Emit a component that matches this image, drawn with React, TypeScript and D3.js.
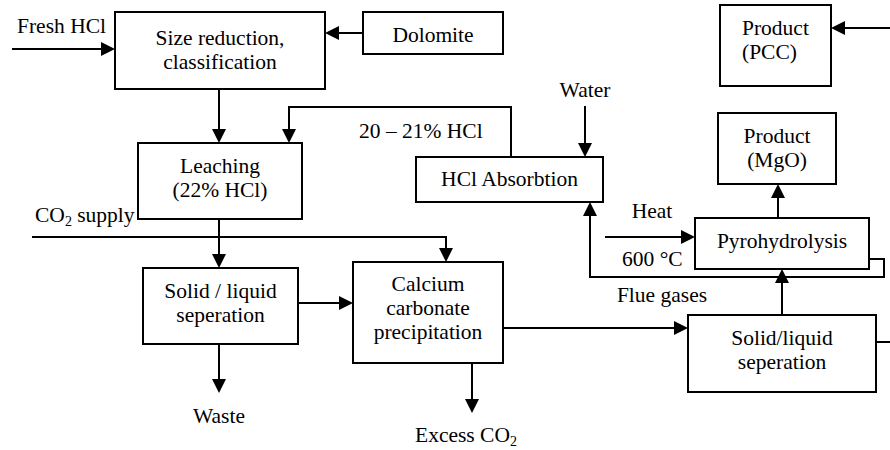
import * as d3 from "d3";

// process steps (box texts)
const boxLabels: string[][] = [
  ["Size reduction,", "classification"],
  ["Dolomite"],
  ["Leaching", "(22% HCl)"],
  ["HCl Absorbtion"],
  ["Product", "(PCC)"],
  ["Product", "(MgO)"],
  ["Pyrohydrolysis"],
  ["Solid / liquid", "seperation"],
  ["Calcium", "carbonate", "precipitation"],
  ["Solid/liquid", "seperation"],
];

// stream labels
const streamLabels = ["Fresh HCl", "20 – 21% HCl", "Water", "Heat", "600 °C", "Flue gases", "Waste"];
const subLabels = [
  ["CO", "2", " supply"],
  ["Excess CO", "2", ""],
];

// layout: box geometry + first text baseline
const boxLayout = [
  { x: 115, y: 12, w: 210, h: 77, ty: 45, anchor: "middle" },
  { x: 363, y: 12, w: 140, h: 42, ty: 42, anchor: "middle" },
  { x: 138, y: 143, w: 164, h: 76, ty: 173, anchor: "middle" },
  { x: 416, y: 157, w: 187, h: 45, ty: 186, anchor: "middle" },
  { x: 720, y: 5, w: 111, h: 81, ty: 35, anchor: "start", tx: 742 },
  { x: 718, y: 113, w: 118, h: 71, ty: 143, anchor: "middle" },
  { x: 695, y: 218, w: 174, h: 51, ty: 248, anchor: "middle" },
  { x: 143, y: 268, w: 155, h: 76, ty: 298, anchor: "middle" },
  { x: 353, y: 262, w: 150, h: 101, ty: 291, anchor: "middle" },
  { x: 688, y: 315, w: 188, h: 77, ty: 345, anchor: "middle" },
];

const streamLayout = [
  { x: 17, y: 33, anchor: "start" },
  { x: 359, y: 138, anchor: "start" },
  { x: 585, y: 97, anchor: "middle" },
  { x: 652, y: 218, anchor: "middle" },
  { x: 622, y: 266, anchor: "start" },
  { x: 662, y: 302, anchor: "middle" },
  { x: 219, y: 423, anchor: "middle" },
];
const subLayout = [
  { x: 35, y: 222 },
  { x: 415, y: 442 },
];

// connectors: polylines, arrow at last point when arrow = true
const connectors: { pts: [number, number][]; arrow: boolean }[] = [
  { pts: [[12, 49], [115, 49]], arrow: true },
  { pts: [[363, 33], [325, 33]], arrow: true },
  { pts: [[219, 89], [219, 143]], arrow: true },
  { pts: [[511, 157], [511, 107], [289, 107], [289, 143]], arrow: true },
  { pts: [[585, 106], [585, 157]], arrow: true },
  { pts: [[32, 237], [446, 237], [446, 262]], arrow: true },
  { pts: [[219, 219], [219, 268]], arrow: true },
  { pts: [[298, 303], [353, 303]], arrow: true },
  { pts: [[219, 344], [219, 393]], arrow: true },
  { pts: [[472, 363], [472, 413]], arrow: true },
  { pts: [[503, 328], [688, 328]], arrow: true },
  { pts: [[782, 315], [782, 269]], arrow: true },
  { pts: [[778, 218], [778, 184]], arrow: true },
  { pts: [[605, 237], [695, 237]], arrow: true },
  { pts: [[869, 259], [884, 259], [884, 277], [590, 277], [590, 202]], arrow: true },
  { pts: [[892, 28], [831, 28]], arrow: true },
  { pts: [[876, 342], [892, 342]], arrow: false },
];

const FONT = "Liberation Serif";
const FS = 21.5;
const LH = 24;
const HEAD_LEN = 14;
const HEAD_HALF = 7;
const line = d3.line();

function connectorPaths(c: { pts: [number, number][]; arrow: boolean }) {
  const pts = c.pts.map((p) => [p[0], p[1]] as [number, number]);
  if (!c.arrow) return { body: line(pts) || "", head: "" };
  const n = pts.length;
  const [x1, y1] = pts[n - 2];
  const [x2, y2] = pts[n - 1];
  const len = Math.hypot(x2 - x1, y2 - y1);
  const ux = (x2 - x1) / len;
  const uy = (y2 - y1) / len;
  const bx = x2 - ux * HEAD_LEN;
  const by = y2 - uy * HEAD_LEN;
  const head: [number, number][] = [
    [x2, y2],
    [bx - uy * HEAD_HALF, by + ux * HEAD_HALF],
    [bx + uy * HEAD_HALF, by - ux * HEAD_HALF],
  ];
  pts[n - 1] = [bx + ux * 2, by + uy * 2];
  return { body: line(pts) || "", head: (line(head) || "") + "Z" };
}

export default function App() {
  const w = 890;
  const h = 450;
  return (
    <div style={{ position: "absolute", left: 0, top: 0 }}>
      <svg width={w} height={h} style={{ display: "block" }} fontFamily={FONT} fontSize={FS}>
        <rect width={w} height={h} fill="#fff" />
        {connectors.map((c, i) => {
          const p = connectorPaths(c);
          return (
            <g key={i}>
              <path d={p.body} fill="none" stroke="#000" strokeWidth={2} />
              {p.head && <path d={p.head} fill="#000" />}
            </g>
          );
        })}
        {boxLayout.map((b, i) => (
          <g key={i}>
            <rect x={b.x} y={b.y} width={b.w} height={b.h} fill="#fff" stroke="#000" strokeWidth={2} />
            {boxLabels[i].map((t, j) => (
              <text
                key={j}
                x={b.tx ?? b.x + b.w / 2}
                y={b.ty + j * LH}
                textAnchor={b.anchor}
                fontFamily={FONT}
                fontSize={FS}
              >
                {t}
              </text>
            ))}
          </g>
        ))}
        {streamLabels.map((t, i) => (
          <text
            key={t}
            x={streamLayout[i].x}
            y={streamLayout[i].y}
            textAnchor={streamLayout[i].anchor}
            fontFamily={FONT}
            fontSize={FS}
          >
            {t}
          </text>
        ))}
        {subLabels.map((parts, i) => (
          <text key={i} x={subLayout[i].x} y={subLayout[i].y} fontFamily={FONT} fontSize={FS}>
            <tspan>{parts[0]}</tspan>
            <tspan fontSize={14} dy={4}>
              {parts[1]}
            </tspan>
            {parts[2] && <tspan dy={-4}>{parts[2]}</tspan>}
          </text>
        ))}
      </svg>
    </div>
  );
}
